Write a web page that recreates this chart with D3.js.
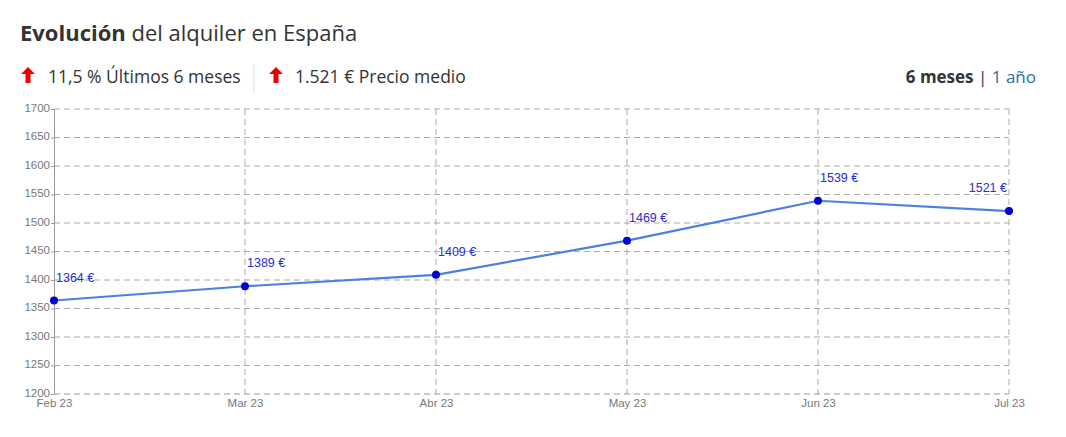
<!DOCTYPE html>
<html><head><meta charset="utf-8">
<script src="https://cdn.jsdelivr.net/npm/d3@7"></script>
<style>body{margin:0;background:#fff;font-family:"Open Sans",sans-serif;}</style>
</head><body><div id="chart"></div>
<script>
const months = ["Feb 23","Mar 23","Abr 23","May 23","Jun 23","Jul 23"];
const prices = [1364,1389,1409,1469,1539,1521];
const yTicks = [1200,1250,1300,1350,1400,1450,1500,1550,1600,1650,1700];

const W = 1066, H = 437;
const svg = d3.select("#chart").append("svg").attr("width", W).attr("height", H);

// header
const t = svg.append("text").attr("x", 20).attr("y", 41).attr("font-size", 22).attr("fill", "#333");
t.append("tspan").attr("font-weight", "bold").text("Evolución");
t.append("tspan").text(" del alquiler en España");

const arrow = (x) => svg.append("path")
  .attr("d", `M${x},67 l-7,7 h4.5 v9 h5 v-9 h4.5 z`).attr("fill", "#e00");
arrow(28);
svg.append("text").attr("x", 48).attr("y", 83).attr("font-size", 17.5).attr("fill", "#333").text("11,5 % Últimos 6 meses");
svg.append("line").attr("x1", 254).attr("x2", 254).attr("y1", 64).attr("y2", 92).attr("stroke", "#ddd");
arrow(276);
svg.append("text").attr("x", 295).attr("y", 83).attr("font-size", 17.5).attr("fill", "#333").text("1.521 € Precio medio");
const r = svg.append("text").attr("x", 1036).attr("y", 83).attr("font-size", 17).attr("text-anchor", "end");
r.append("tspan").attr("font-weight", "bold").attr("fill", "#333").text("6 meses");
r.append("tspan").attr("fill", "#333").text(" | ");
r.append("tspan").attr("fill", "#2a6fa8").text("1 año");

// chart
const x = d3.scalePoint().domain(months).range([54, 1009]);
const y = d3.scaleLinear().domain([1200, 1700]).range([394, 109]);

const g = svg.append("g");
g.selectAll(".hg").data(yTicks.slice(1)).join("line")
  .attr("x1", 54).attr("x2", 1009).attr("y1", d => y(d)).attr("y2", d => y(d))
  .attr("stroke", "#aaa").attr("stroke-dasharray", "6,4");
g.selectAll(".vg").data(months.slice(1)).join("line")
  .attr("x1", d => x(d)).attr("x2", d => x(d)).attr("y1", 109).attr("y2", 394)
  .attr("stroke", "#aaa").attr("stroke-dasharray", "6,4");
g.append("line").attr("x1", 54).attr("x2", 1009).attr("y1", 394).attr("y2", 394)
  .attr("stroke", "#999").attr("stroke-dasharray", "6,4");

const ya = svg.append("g").attr("transform", "translate(54,0)")
  .call(d3.axisLeft(y).tickValues(yTicks).tickSize(3).tickFormat(d3.format("d")));
ya.select(".domain").attr("stroke", "#999");
ya.selectAll(".tick line").attr("stroke", "#999");
ya.selectAll("text").attr("fill", "#777").attr("font-size", 11.5).attr("font-family", "Liberation Sans, Arial").attr("dx", 2).attr("dy", "0.2em");

const xa = svg.append("g").attr("transform", "translate(0,394)")
  .call(d3.axisBottom(x).tickSize(0));
xa.select(".domain").remove();
xa.selectAll("text").attr("fill", "#777").attr("font-size", 11.5).attr("font-family", "Liberation Sans, Arial").attr("dy", "0.9em");

const pts = months.map((m, i) => [x(m), y(prices[i])]);
svg.append("path").attr("d", d3.line()(pts)).attr("fill", "none").attr("stroke", "#4a80e2").attr("stroke-width", 2.2);
svg.selectAll(".pt").data(pts).join("circle").attr("cx", d => d[0]).attr("cy", d => d[1]).attr("r", 4).attr("fill", "#0000d0");
svg.selectAll(".lb").data(months).join("text")
  .attr("x", (d, i) => i === months.length - 1 ? x(d) - 2 : x(d) + 2)
  .attr("y", (d, i) => y(prices[i]) - 19)
  .attr("text-anchor", (d, i) => i === months.length - 1 ? "end" : "start")
  .attr("font-size", 12.5).attr("font-family", "Liberation Sans, Arial").attr("fill", "#2a2ad0")
  .text((d, i) => prices[i] + " €");
</script></body></html>
